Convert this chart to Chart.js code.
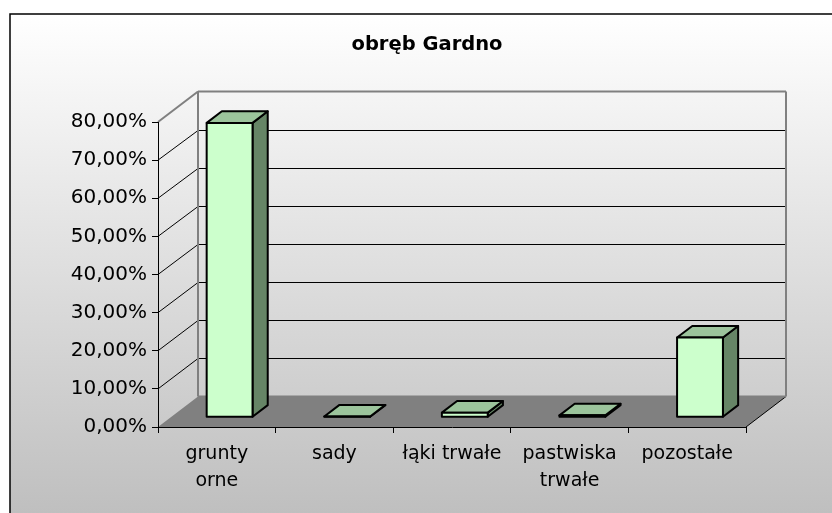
<!DOCTYPE html>
<html>
<head>
<meta charset="utf-8">
<script src="https://cdn.jsdelivr.net/npm/chart.js@4/dist/chart.umd.min.js"></script>
<style>
  html, body { margin: 0; padding: 0; background: #fff; }
  canvas { display: block; }
</style>
</head>
<body>
<canvas id="chart" width="832" height="513"></canvas>
<script>
// obręb Gardno - struktura użytków (wykres słupkowy 3D)
const categories = [['grunty', 'orne'], 'sady', 'łąki trwałe', ['pastwiska', 'trwałe'], 'pozostałe'];
const shares = [77.2, 0.2, 1.2, 0.5, 20.9];
const yTicks = [0, 10, 20, 30, 40, 50, 60, 70, 80];
const chartTitle = 'obręb Gardno';

// glebokosc "3D"
const depthX = 40, depthY = 30.5;
const barFront = 0.32, barDepth = 0.38;

function fmtPct(v) {
    return v.toFixed(2).replace('.', ',') + '%';
}

function line(ctx, x1, y1, x2, y2) {
    ctx.beginPath();
    ctx.moveTo(x1, y1);
    ctx.lineTo(x2, y2);
    ctx.stroke();
}

const walls = {
    id: 'walls',
    beforeDraw(chart) {
        const ctx = chart.ctx;
        const a = chart.chartArea;
        const y = chart.scales.y;
        ctx.save();
        ctx.fillStyle = '#fff';
        ctx.fillRect(0, 0, chart.width, chart.height);
        const g = ctx.createLinearGradient(0, 14, 0, chart.height);
        g.addColorStop(0, '#ffffff');
        g.addColorStop(1, '#bfbfbf');
        ctx.fillStyle = g;
        ctx.fillRect(10, 14, chart.width, chart.height);
        ctx.strokeStyle = '#000';
        ctx.lineWidth = 1.5;
        ctx.strokeRect(10, 14, chart.width + 20, chart.height + 20);

        // tytul
        ctx.fillStyle = '#000';
        ctx.font = 'bold 19.5px "DejaVu Sans"';
        ctx.textAlign = 'center';
        ctx.textBaseline = 'middle';
        ctx.fillText(chartTitle, 427, 44.5);

        const y0 = y.getPixelForValue(0);
        const yMax = y.getPixelForValue(y.max);
        // podloga
        ctx.fillStyle = '#808080';
        ctx.beginPath();
        ctx.moveTo(a.left, y0);
        ctx.lineTo(a.right, y0);
        ctx.lineTo(a.right + depthX, y0 - depthY);
        ctx.lineTo(a.left + depthX, y0 - depthY);
        ctx.closePath();
        ctx.fill();
        ctx.strokeStyle = '#000';
        ctx.lineWidth = 1;
        line(ctx, a.right, y0, a.right + depthX, y0 - depthY);

        // linie siatki na scianach
        yTicks.forEach(v => {
            if (v === 0 || v === y.max) return;
            const py = y.getPixelForValue(v);
            const by = Math.round(py - depthY) + 0.5;
            ctx.strokeStyle = '#000';
            ctx.lineWidth = 1;
            line(ctx, a.left, py, a.left + depthX, by);
            line(ctx, a.left + depthX, by, a.right + depthX, by);
        });

        // krawedzie scian
        ctx.strokeStyle = '#808080';
        ctx.lineWidth = 2;
        const bx0 = a.left + depthX, bx1 = a.right + depthX;
        const byTop = yMax - depthY, byBot = y0 - depthY;
        line(ctx, a.left, yMax, bx0, byTop);
        line(ctx, bx0, byTop, bx1, byTop);
        line(ctx, bx1, byTop, bx1, byBot);
        line(ctx, bx0, byTop, bx0, byBot);
        line(ctx, bx0, byBot, bx1, byBot);
        ctx.restore();
    },
    afterDatasetsDraw(chart) {
        const ctx = chart.ctx;
        const meta = chart.getDatasetMeta(0);
        const fx = depthX * barFront, fy = -depthY * barFront;
        const dx = depthX * barDepth, dy = -depthY * barDepth;
        ctx.save();
        ctx.strokeStyle = '#000';
        ctx.lineWidth = 2;
        ctx.lineJoin = 'round';
        meta.data.forEach(bar => {
            const p = bar.getProps(['x', 'y', 'base', 'width'], true);
            const l = p.x - p.width / 2 + fx, r = p.x + p.width / 2 + fx;
            const t = p.y + fy, b = p.base + fy;
            // bok
            ctx.fillStyle = '#668566';
            ctx.beginPath();
            ctx.moveTo(r, b); ctx.lineTo(r + dx, b + dy);
            ctx.lineTo(r + dx, t + dy); ctx.lineTo(r, t);
            ctx.closePath(); ctx.fill(); ctx.stroke();
            // gora
            ctx.fillStyle = '#9cc49c';
            ctx.beginPath();
            ctx.moveTo(l, t); ctx.lineTo(r, t);
            ctx.lineTo(r + dx, t + dy); ctx.lineTo(l + dx, t + dy);
            ctx.closePath(); ctx.fill(); ctx.stroke();
            // przod
            ctx.fillStyle = '#ccffcc';
            ctx.beginPath();
            ctx.rect(l, t, r - l, b - t);
            ctx.fill(); ctx.stroke();
        });
        ctx.restore();
    }
};

new Chart(document.getElementById('chart'), {
    type: 'bar',
    data: {
        labels: categories,
        datasets: [{
            label: chartTitle,
            data: shares,
            backgroundColor: 'rgba(0,0,0,0)',
            borderWidth: 0,
            categoryPercentage: 1,
            barPercentage: 0.39
        }]
    },
    options: {
        responsive: false,
        animation: false,
        layout: { padding: { left: 0, right: 86, top: 122, bottom: 0 } },
        plugins: {
            legend: { display: false },
            tooltip: { enabled: false },
            title: { display: false }
        },
        scales: {
            x: {
                afterFit(scale) { scale.height = 86; },
                grid: { drawOnChartArea: false, color: '#000', tickLength: 6 },
                border: { display: true, color: '#000', width: 1 },
                ticks: {
                    color: '#000',
                    autoSkip: false,
                    maxRotation: 0,
                    padding: 8,
                    font: { family: 'DejaVu Sans', size: 19, lineHeight: 1.42 }
                }
            },
            y: {
                min: 0,
                max: 80,
                afterFit(scale) { scale.width = 158; },
                afterBuildTicks(scale) { scale.ticks = yTicks.map(v => ({ value: v })); },
                grid: { drawOnChartArea: false, color: '#000', tickLength: 6 },
                border: { display: true, color: '#000', width: 1 },
                ticks: {
                    color: '#000',
                    padding: 5,
                    font: { family: 'DejaVu Sans', size: 20 },
                    callback: v => fmtPct(v)
                }
            }
        }
    },
    plugins: [walls]
});
</script>
</body>
</html>
